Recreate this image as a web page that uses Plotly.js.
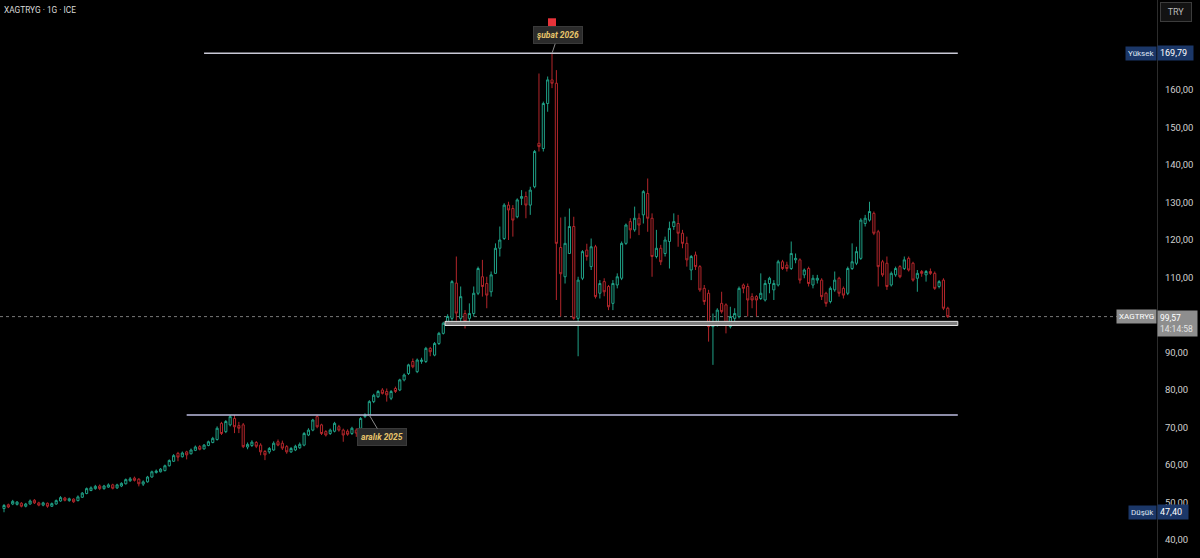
<!DOCTYPE html>
<html>
<head>
<meta charset="utf-8">
<script src="https://cdn.plot.ly/plotly-3.0.1.min.js"></script>
<style>
  html, body { margin: 0; padding: 0; background: #000; }
  #chart { width: 1200px; height: 558px; }
</style>
</head>
<body>
<div id="chart"></div>
<script>
// XAGTRYG daily candles (silver, TRY per gram)
const symbolName = 'XAGTRYG';
const chartTitle = 'XAGTRYG · 1G · ICE';
const currencyLabel = 'TRY';

const openP = [
  48.4, 49.4, 49.6, 49.5, 49.8, 49.0, 49.6, 50.6, 49.9, 49.3,
  49.8, 49.0, 49.6, 50.4, 51.2, 50.5, 50.9, 50.5, 51.4, 52.4,
  53.2, 53.7, 54.4, 53.7, 54.1, 54.7, 53.9, 54.4, 55.0, 55.8,
  56.5, 56.2, 54.9, 55.5, 56.8, 58.0, 58.2, 58.5, 59.8, 61.0,
  63.1, 62.2, 63.5, 63.0, 63.9, 64.9, 64.3, 65.2, 66.0, 66.8,
  71.1, 68.9, 70.7, 72.4, 70.5, 70.7, 64.8, 65.2, 66.0, 65.3,
  63.6, 63.5, 64.0, 66.2, 65.8, 64.9, 63.5, 64.0, 64.6, 65.3,
  68.0, 69.3, 72.9, 70.7, 68.9, 68.4, 69.0, 70.2, 69.3, 69.0,
  68.4, 69.3, 69.8, 72.9, 73.3, 76.9, 78.2, 80.0, 79.6, 77.8,
  80.4, 80.0, 82.7, 84.4, 87.6, 84.9, 87.6, 87.6, 91.1, 89.3,
  92.4, 95.1, 98.2, 99.1, 108.5, 99.1, 100.4, 99.1, 100.4, 105.8,
  110.2, 108.4, 106.2, 111.1, 117.8, 120.4, 129.3, 128.4, 126.2, 131.1,
  131.6, 129.3, 134.2, 145.8, 144.4, 156.4, 162.7, 161.8, 118.0, 110.2,
  116.4, 123.6, 99.1, 109.8, 117.3, 112.9, 118.2, 105.8, 108.9, 107.6,
  103.1, 108.0, 109.8, 119.1, 124.9, 122.7, 125.8, 126.7, 132.4, 125.8,
  115.6, 117.8, 116.4, 119.6, 123.6, 124.4, 121.8, 119.1, 112.0, 116.0,
  112.9, 107.1, 105.8, 96.9, 97.8, 103.1, 102.7, 96.9, 99.1, 99.6,
  108.0, 107.6, 104.9, 104.9, 104.4, 104.0, 108.4, 106.7, 108.0, 114.2,
  113.3, 112.4, 114.7, 114.7, 110.7, 112.4, 108.0, 109.3, 109.3, 105.8,
  103.6, 106.7, 109.8, 107.1, 105.8, 112.4, 113.8, 115.1, 124.4, 125.3,
  127.1, 122.2, 114.2, 113.8, 108.0, 110.7, 112.9, 112.4, 115.1, 113.8,
  109.8, 111.6, 110.7, 111.6, 111.1, 107.6, 109.3, 101.8
];
const highP = [
  49.6, 49.7, 50.7, 50.4, 50.1, 49.9, 50.8, 50.9, 50.2, 50.2,
  50.0, 50.0, 50.8, 51.7, 51.5, 51.3, 51.1, 51.9, 52.8, 54.0,
  54.3, 54.7, 54.8, 54.7, 55.1, 55.0, 55.0, 55.4, 56.4, 56.8,
  56.9, 56.5, 55.9, 57.1, 58.5, 58.8, 59.2, 60.1, 61.5, 62.9,
  63.5, 63.6, 63.8, 64.4, 65.2, 65.3, 65.6, 66.5, 67.5, 70.3,
  71.5, 72.0, 73.3, 73.3, 71.5, 71.2, 66.0, 66.6, 66.4, 65.8,
  64.0, 64.8, 66.3, 66.8, 66.5, 65.3, 64.8, 65.4, 66.0, 68.8,
  69.8, 72.3, 73.3, 71.0, 69.3, 69.7, 71.5, 70.7, 69.7, 69.5,
  70.2, 69.8, 72.8, 73.8, 77.3, 79.0, 80.0, 80.5, 80.4, 80.0,
  80.9, 83.0, 84.4, 87.0, 88.4, 88.4, 88.6, 91.5, 91.5, 92.8,
  95.5, 98.2, 100.2, 109.3, 115.6, 107.6, 101.3, 103.1, 107.6, 112.9,
  114.7, 110.2, 111.6, 119.1, 123.6, 129.8, 130.2, 129.3, 131.1, 133.3,
  132.9, 134.2, 144.0, 164.4, 156.9, 163.6, 169.79, 165.3, 126.0, 126.2,
  128.4, 126.2, 110.2, 117.3, 119.0, 120.4, 118.7, 109.3, 109.8, 108.0,
  109.3, 111.1, 119.6, 124.4, 125.8, 128.9, 127.1, 133.3, 136.4, 127.1,
  122.7, 118.7, 120.9, 124.9, 127.1, 126.7, 122.7, 120.9, 116.0, 116.9,
  113.3, 108.0, 106.7, 100.4, 101.8, 106.2, 103.1, 102.2, 101.8, 107.6,
  108.4, 108.4, 105.8, 105.3, 111.1, 109.3, 110.2, 109.3, 114.7, 114.7,
  114.2, 119.6, 116.4, 115.1, 112.4, 112.9, 110.7, 110.7, 109.8, 106.2,
  107.6, 111.6, 110.2, 107.6, 112.9, 119.1, 118.2, 125.8, 126.7, 130.2,
  127.6, 122.7, 114.7, 115.6, 111.6, 112.9, 113.3, 115.6, 115.6, 114.2,
  112.0, 112.0, 112.0, 112.4, 111.6, 109.3, 109.8, 102.2
];
const lowP = [
  47.4, 48.5, 49.3, 49.2, 48.7, 48.7, 49.4, 49.6, 49.0, 49.0,
  48.6, 48.8, 49.4, 50.2, 50.3, 50.2, 49.9, 50.3, 51.2, 52.2,
  53.0, 53.4, 53.3, 53.4, 53.9, 53.5, 53.6, 54.1, 54.8, 55.5,
  55.6, 54.3, 54.4, 55.3, 56.6, 57.7, 58.0, 58.3, 59.6, 60.8,
  61.0, 62.0, 61.5, 62.8, 63.7, 63.9, 64.1, 65.0, 65.8, 66.5,
  68.0, 68.5, 70.3, 68.5, 68.5, 64.5, 64.2, 64.8, 64.5, 62.6,
  61.3, 63.0, 63.8, 65.0, 64.0, 63.0, 63.2, 63.7, 64.3, 65.0,
  67.7, 69.0, 69.8, 68.0, 67.6, 68.0, 68.7, 68.9, 66.2, 67.8,
  68.0, 67.5, 69.5, 72.5, 73.0, 76.5, 77.9, 78.8, 76.9, 77.3,
  79.2, 79.7, 82.3, 84.0, 85.8, 84.5, 87.0, 87.2, 89.0, 89.0,
  92.0, 94.8, 97.8, 98.5, 98.5, 97.3, 96.4, 97.8, 99.6, 105.3,
  104.9, 101.8, 104.9, 111.0, 115.6, 120.0, 120.0, 120.9, 125.8, 129.3,
  125.8, 126.7, 133.8, 143.6, 143.6, 154.2, 160.5, 104.0, 99.6, 108.4,
  116.4, 98.7, 89.0, 109.3, 114.5, 112.0, 104.4, 104.4, 105.0, 101.3,
  101.3, 107.1, 109.3, 118.7, 120.4, 122.2, 121.3, 124.4, 122.2, 110.2,
  115.1, 113.3, 115.6, 112.4, 122.7, 118.2, 117.8, 112.9, 109.3, 112.0,
  106.2, 102.7, 92.9, 86.7, 96.9, 100.4, 95.1, 96.4, 98.2, 99.1,
  105.8, 99.6, 101.8, 99.6, 104.0, 103.6, 105.8, 104.0, 107.6, 112.0,
  111.6, 112.0, 113.8, 108.4, 109.8, 107.6, 107.1, 108.4, 104.0, 102.2,
  103.1, 106.2, 104.9, 104.4, 105.3, 112.0, 113.3, 114.7, 123.6, 124.9,
  121.3, 107.6, 110.2, 106.7, 107.6, 110.2, 109.8, 112.0, 111.6, 108.9,
  106.2, 110.2, 108.9, 110.7, 106.7, 107.1, 101.3, 99.2
];
const closeP = [
  49.2, 48.8, 50.3, 50.1, 49.0, 49.6, 50.4, 49.9, 49.3, 49.9,
  49.0, 49.7, 50.5, 51.3, 50.6, 51.0, 50.2, 51.5, 52.5, 53.7,
  53.9, 54.3, 53.7, 54.4, 54.7, 53.8, 54.7, 55.1, 56.1, 56.3,
  55.9, 55.0, 55.5, 56.8, 58.2, 58.4, 58.9, 59.8, 61.2, 62.5,
  62.1, 63.2, 62.7, 64.0, 64.8, 64.2, 65.3, 66.2, 67.1, 69.8,
  68.4, 71.6, 72.9, 70.2, 69.8, 64.9, 65.5, 66.1, 65.0, 63.5,
  62.7, 64.4, 65.8, 65.3, 64.5, 63.5, 64.4, 65.0, 65.5, 68.4,
  69.3, 72.0, 70.2, 68.4, 68.0, 69.3, 71.1, 69.3, 68.0, 68.2,
  69.8, 68.5, 72.4, 73.3, 76.9, 78.6, 79.6, 79.1, 78.7, 79.6,
  79.6, 82.7, 84.0, 86.7, 86.2, 88.0, 88.0, 91.1, 90.2, 92.4,
  95.1, 97.8, 99.6, 108.9, 100.5, 104.9, 98.2, 100.4, 105.8, 112.4,
  107.6, 105.3, 110.7, 117.8, 120.0, 129.3, 128.0, 125.3, 130.7, 131.6,
  129.3, 133.3, 143.6, 144.9, 156.4, 162.7, 161.8, 119.1, 111.0, 119.1,
  123.6, 99.1, 109.3, 116.9, 115.6, 118.2, 104.9, 108.4, 106.2, 102.2,
  108.4, 110.2, 119.1, 124.0, 122.7, 125.8, 124.0, 132.9, 125.8, 115.6,
  117.8, 114.2, 120.0, 123.1, 124.9, 121.8, 119.1, 114.7, 115.6, 112.9,
  106.7, 103.6, 96.9, 98.2, 101.3, 100.9, 97.8, 99.6, 100.4, 107.1,
  107.1, 104.0, 104.0, 104.0, 105.8, 108.4, 109.8, 108.4, 114.2, 112.4,
  112.4, 116.4, 115.1, 109.3, 112.0, 108.4, 109.8, 109.8, 104.9, 103.1,
  107.1, 109.3, 105.8, 105.3, 112.4, 114.2, 116.9, 125.3, 125.8, 127.6,
  121.8, 112.9, 110.7, 107.6, 111.1, 112.4, 110.2, 114.7, 112.0, 109.3,
  111.1, 111.1, 111.6, 111.1, 107.1, 108.9, 101.8, 99.57
];

// Drawn levels
const supportLevel = 73.3;          // former resistance, broken in December
const zoneBottom = 97.2;            // support zone
const zoneTop = 98.3;
const levelStart = { high: 46, support: 42, zone: 101.4 };
const levelEnd = 219.3;

const yTickValues = [40, 50, 60, 70, 80, 90, 110, 120, 130, 140, 150, 160];
const peakLabel = 'şubat 2026';
const breakLabel = 'aralık 2025';
const breakIndex = 84;
const lastTime = '14:14:58';

// ---------------------------------------------------------------
const xIdx = openP.map((_, i) => i);
const highest = Math.max(...highP);
const lowest = Math.min(...lowP);
const peakIndex = highP.indexOf(highest);
const lastClose = closeP[closeP.length - 1];
const fmt = v => v.toFixed(2).replace('.', ',');

const UP = '#1fa086';
const DOWN = '#b3262b';
const FONT = 'Roboto, "Liberation Sans", sans-serif';

const candles = {
  type: 'candlestick',
  x: xIdx,
  open: openP, high: highP, low: lowP, close: closeP,
  increasing: { line: { color: UP, width: 1 }, fillcolor: '#000000' },
  decreasing: { line: { color: DOWN, width: 1 }, fillcolor: '#000000' },
  whiskerwidth: 0,
  hoverinfo: 'skip',
  showlegend: false
};

const levelLine = { color: '#c9c9d6', width: 1.5 };

const shapes = [
  // current price line
  { type: 'line', xref: 'paper', x0: 0, x1: 1, yref: 'y', y0: lastClose, y1: lastClose,
    line: { color: '#7a7a7a', width: 1, dash: 'dot' }, layer: 'below' },
  // high level
  { type: 'line', xref: 'x', x0: levelStart.high, x1: levelEnd, yref: 'y', y0: highest, y1: highest,
    line: levelLine },
  // broken resistance
  { type: 'line', xref: 'x', x0: levelStart.support, x1: levelEnd, yref: 'y', y0: supportLevel, y1: supportLevel,
    line: { color: '#bdbde0', width: 1.5 } },
  // support zone
  { type: 'rect', xref: 'x', x0: levelStart.zone, x1: levelEnd, yref: 'y', y0: zoneBottom, y1: zoneTop,
    line: { color: '#e2e2e2', width: 1 }, fillcolor: '#7d7d7d' },
  // event marker above the peak
  { type: 'rect', xref: 'x', xsizemode: 'pixel', xanchor: peakIndex, x0: -4, x1: 4,
    yref: 'y', ysizemode: 'pixel', yanchor: highest, y0: 27, y1: 35,
    line: { width: 0 }, fillcolor: '#e8333a' }
];

const badgeFont = { family: FONT, size: 9, color: '#ffffff' };

const annotations = [
  { xref: 'paper', yref: 'paper', x: 0, y: 1, xanchor: 'left', yanchor: 'top',
    xshift: 2, yshift: -3, showarrow: false, text: chartTitle,
    font: { family: FONT, size: 8.3, color: '#dadada' } },
  { xref: 'paper', yref: 'paper', x: 1, y: 1, xanchor: 'left', yanchor: 'top',
    xshift: 3, yshift: -2, showarrow: false, text: currencyLabel,
    bgcolor: '#131313', bordercolor: '#3c3c3c', borderwidth: 1, borderpad: 4,
    width: 22, font: { family: FONT, size: 9, color: '#b8b8b8' } },

  // peak tag
  { xref: 'x', yref: 'y', x: peakIndex, y: highest, ax: 6, ay: -18,
    showarrow: true, arrowhead: 0, arrowwidth: 1, arrowcolor: '#8a8a8a', standoff: 0,
    text: '<b><i>' + peakLabel + '</i></b>',
    bgcolor: '#2b2b2b', bordercolor: '#3a3a3a', borderwidth: 1, borderpad: 3,
    font: { family: FONT, size: 8.5, color: '#e7c46a' } },
  // breakout tag
  { xref: 'x', yref: 'y', x: breakIndex, y: supportLevel, ax: 13, ay: 22,
    showarrow: true, arrowhead: 0, arrowwidth: 1, arrowcolor: '#8a8a8a', standoff: 0,
    text: '<b><i>' + breakLabel + '</i></b>',
    bgcolor: '#2b2b2b', bordercolor: '#3a3a3a', borderwidth: 1, borderpad: 3,
    font: { family: FONT, size: 8.5, color: '#e7c46a' } },

  // high badge
  { xref: 'paper', yref: 'y', x: 1, y: highest, xanchor: 'right', showarrow: false,
    text: 'Yüksek', bgcolor: '#1b3768', borderpad: 2, font: { family: FONT, size: 8, color: '#dfe6f2' } },
  { xref: 'paper', yref: 'y', x: 1, y: highest, xanchor: 'left', showarrow: false,
    text: fmt(highest), bgcolor: '#1b3768', borderpad: 2, width: 31, align: 'left', font: badgeFont },
  // low badge
  { xref: 'paper', yref: 'y', x: 1, y: lowest, xanchor: 'right', showarrow: false,
    text: 'Düşük', bgcolor: '#1b3768', borderpad: 2, font: { family: FONT, size: 8, color: '#dfe6f2' } },
  { xref: 'paper', yref: 'y', x: 1, y: lowest, xanchor: 'left', showarrow: false,
    text: fmt(lowest), bgcolor: '#1b3768', borderpad: 2, width: 26, align: 'left', font: badgeFont },
  // last price badge
  { xref: 'paper', yref: 'y', x: 1, y: lastClose, xanchor: 'right', showarrow: false,
    text: symbolName, bgcolor: '#8e8e8e', borderpad: 2, font: { family: FONT, size: 8, color: '#ffffff' } },
  { xref: 'paper', yref: 'y', x: 1, y: lastClose, xanchor: 'left', yanchor: 'top', yshift: 7,
    showarrow: false, align: 'left',
    text: fmt(lastClose) + '<br><span style="color:#e4e4e4">' + lastTime + '</span>',
    bgcolor: '#8e8e8e', borderpad: 2, width: 35, font: { family: FONT, size: 8.5, color: '#ffffff' } }
];

const layout = {
  width: 1200, height: 558,
  paper_bgcolor: '#000000', plot_bgcolor: '#000000',
  margin: { l: 0, r: 43, t: 0, b: 0, pad: 0 },
  separators: ', ',
  showlegend: false,
  font: { family: FONT, color: '#cfcfcf' },
  xaxis: {
    type: 'linear', range: [-0.92, 265.1], visible: false,
    rangeslider: { visible: false }, fixedrange: true
  },
  yaxis: {
    side: 'right', range: [35.2, 184.0], fixedrange: true,
    tickvals: yTickValues, tickformat: '.2f',
    showgrid: false, zeroline: false,
    showline: true, linecolor: '#2c2c2c', linewidth: 1,
    ticks: '', ticklabelstandoff: 5,
    tickfont: { family: FONT, size: 9.5, color: '#cfcfcf' },
    automargin: false
  },
  shapes: shapes,
  annotations: annotations
};

Plotly.newPlot('chart', [candles], layout, { staticPlot: true, displayModeBar: false });
</script>
</body>
</html>
